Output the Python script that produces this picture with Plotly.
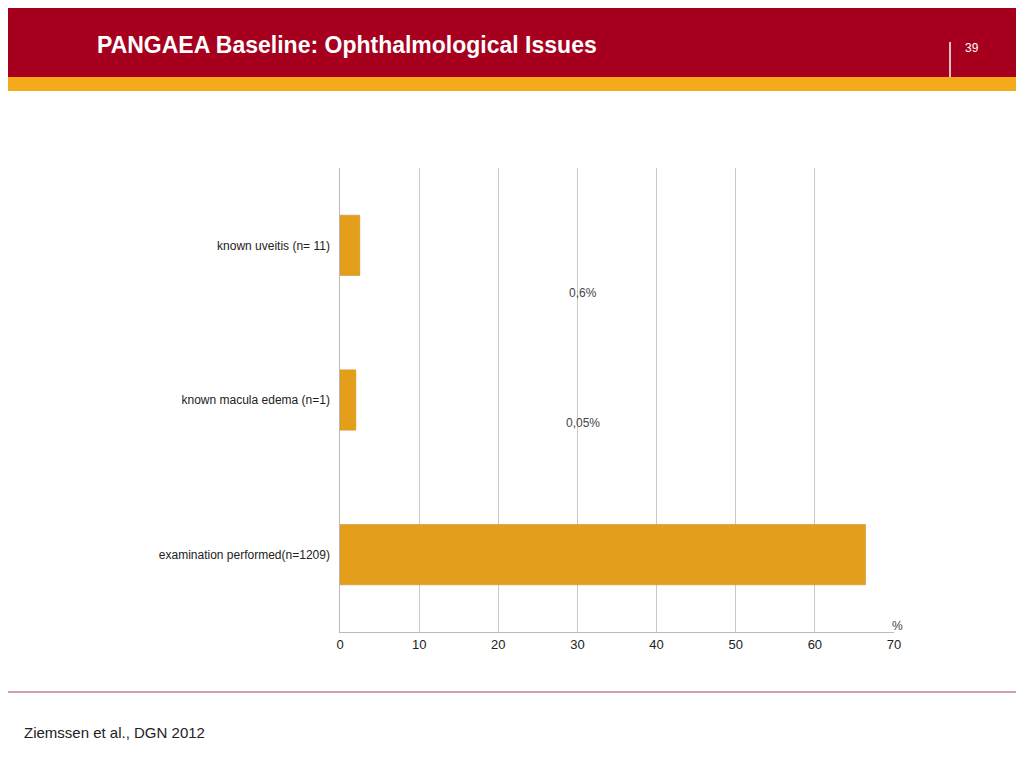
import plotly.graph_objects as go

categories = ["examination performed(n=1209)", "known macula edema (n=1)", "known uveitis (n= 11)"]
values = [66.4, 2.0, 2.5]
x_ticks = [0, 10, 20, 30, 40, 50, 60, 70]
labels = ["0,6%", "0,05%"]

# the page puts the figure at (8, 8), so work in screen pixels and shift
O = 8
W, H = 1024 - O, 768 - O
L, R, T, B = 340, 894, 168, 632


def px(x):
    return (x - L) / (R - L)


def py(y):
    return (B - y) / (B - T)


fig = go.Figure(go.Bar(
    y=categories, x=values, orientation="h", width=0.39,
    marker=dict(color="#E39E1C", line=dict(color="#C9871A", width=0.5)),
))

shapes = [
    dict(type="rect", xref="paper", yref="paper", x0=px(0), x1=px(1030), y0=py(77), y1=py(0),
         fillcolor="#A6001E", line_width=0, layer="below"),
    dict(type="rect", xref="paper", yref="paper", x0=px(0), x1=px(1030), y0=py(91), y1=py(77),
         fillcolor="#F5AA1C", line_width=0, layer="below"),
    dict(type="line", xref="paper", yref="paper", x0=px(950), x1=px(950), y0=py(42), y1=py(77),
         line=dict(color="white", width=1.5)),
    dict(type="line", xref="paper", yref="paper", x0=px(0), x1=px(1030), y0=py(692), y1=py(692),
         line=dict(color="#B0405A", width=1)),
]

annotations = [
    dict(text="<b>PANGAEA Baseline: Ophthalmological Issues</b>", xref="paper", yref="paper",
         x=px(95), y=py(45), xanchor="left", yanchor="middle", showarrow=False,
         font=dict(size=23, color="white", family="Liberation Sans")),
    dict(text="39", xref="paper", yref="paper", x=px(963), y=py(48), xanchor="left",
         yanchor="middle", showarrow=False, font=dict(size=12, color="white", family="Liberation Sans")),
    dict(text="Ziemssen et al., DGN 2012", xref="paper", yref="paper", x=px(22), y=py(732),
         xanchor="left", yanchor="middle", showarrow=False,
         font=dict(size=15, color="#222", family="Liberation Sans")),
    dict(text="%", xref="paper", yref="paper", x=px(897), y=py(626), xanchor="center",
         yanchor="middle", showarrow=False, font=dict(size=12, color="#444", family="Liberation Sans")),
]
for t, yy in zip(labels, [293, 423]):
    annotations.append(dict(text=t, xref="x", yref="paper", x=30.7, y=py(yy), xanchor="center",
                            yanchor="middle", showarrow=False,
                            font=dict(size=12, color="#444", family="Liberation Sans")))

fig.update_layout(
    width=W, height=H, margin=dict(l=L - O, r=1024 - R, t=T - O, b=768 - B),
    plot_bgcolor="white", paper_bgcolor="white", showlegend=False,
    shapes=shapes, annotations=annotations,
    font=dict(family="Liberation Sans", size=12, color="#222"),
    xaxis=dict(range=[0, 70], tickvals=x_ticks, showgrid=True, gridcolor="#C8C8C8",
               showline=True, linecolor="#BBBBBB", zeroline=False, ticks="",
               tickfont=dict(size=13, color="#222")),
    yaxis=dict(showline=True, linecolor="#BBBBBB", ticks="", showgrid=False,
               tickfont=dict(size=12, color="#222"), ticksuffix="  "),
    bargap=0.6,
)

fig.write_html("out.html")
